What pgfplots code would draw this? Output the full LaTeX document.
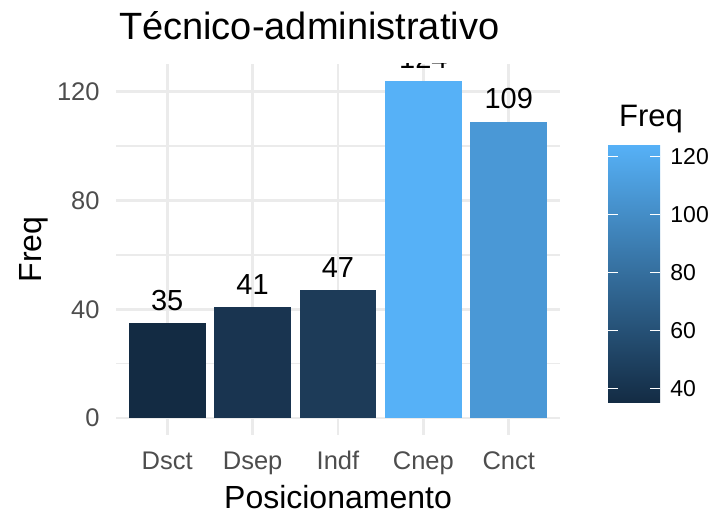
\documentclass[border=0pt]{standalone}
\usepackage{pgfplots}
\pgfplotsset{compat=1.18}
\usepackage{fontspec}
\setmainfont{Liberation Sans}
\definecolor{c35}{HTML}{132B43}
\definecolor{c41}{HTML}{193450}
\definecolor{c47}{HTML}{1D3B58}
\definecolor{c124}{HTML}{56B1F7}
\definecolor{c109}{HTML}{4A98D6}
\definecolor{gridc}{HTML}{EBEBEB}
\definecolor{tickc}{HTML}{4D4D4D}
\begin{document}
\begin{tikzpicture}
\useasboundingbox (0,0) rectangle (362.5pt,256.5pt);
\begin{axis}[
  at={(58pt,39pt)}, anchor=south west,
  scale only axis, width=222pt, height=185.5pt,
  xmin=0.4, xmax=5.6, ymin=-6.2, ymax=130.2,
  axis line style={draw=none},
  tick style={draw=none},
  clip marker paths=true,
  xtick={1,2,3,4,5},
  xticklabels={Dsct,Dsep,Indf,Cnep,Cnct},
  ytick={0,40,80,120},
  minor ytick={20,60,100},
  xmajorgrids, ymajorgrids, yminorgrids,
  major grid style={draw=gridc, line width=1.3pt},
  minor grid style={draw=gridc, line width=0.65pt},
  /pgf/number format/assume math mode=true,
  ticklabel style={font=\fontsize{12.75}{14}\selectfont, text=tickc},
  xticklabel style={anchor=base, yshift=-17.5pt, inner sep=0pt},
  yticklabel style={anchor=east, xshift=-8pt, inner sep=0pt},
  nodes near coords,
  nodes near coords style={font=\fontsize{14.5}{16}\selectfont, text=black, inner sep=0pt, yshift=6pt},
  colormap={ggblue}{rgb255=(19,43,67) rgb255=(86,177,247)},
  point meta min=35, point meta max=124,
  colorbar,
  colorbar/width=26pt,
  colorbar style={
    at={(parent axis.south east)}, anchor=south west,
    xshift=15.5pt, yshift=16pt,
    scale only axis, width=26pt, height=129pt,
    ytick={40,60,80,100,120},
    axis line style={draw=none},
    tick align=inside,
    ytick pos=both,
    yticklabel pos=right,
    major tick length=5pt,
    tick style={draw=white, line width=0.6pt},
    /pgf/number format/assume math mode=true,
    yticklabel style={font=\fontsize{11.5}{13}\selectfont, text=black, anchor=west, inner sep=0pt, xshift=5pt},
  },
]
\addplot[ybar, bar width=0.9, bar shift=0pt, fill=c35, draw=none] coordinates {(1,35)};
\addplot[ybar, bar width=0.9, bar shift=0pt, fill=c41, draw=none] coordinates {(2,41)};
\addplot[ybar, bar width=0.9, bar shift=0pt, fill=c47, draw=none] coordinates {(3,47)};
\addplot[ybar, bar width=0.9, bar shift=0pt, fill=c124, draw=none] coordinates {(4,124)};
\addplot[ybar, bar width=0.9, bar shift=0pt, fill=c109, draw=none] coordinates {(5,109)};
\end{axis}
\node[anchor=base west, font=\fontsize{19}{22}\selectfont] at (56pt,236.5pt) {Técnico-administrativo};
\node[anchor=base, font=\fontsize{16}{19}\selectfont] at (169pt,2pt) {Posicionamento};
\node[anchor=base, rotate=90, font=\fontsize{16}{19}\selectfont] at (20.85pt,131.75pt) {Freq};
\node[anchor=base west, font=\fontsize{15.5}{18}\selectfont] at (306pt,193pt) {Freq};
\end{tikzpicture}
\end{document}
